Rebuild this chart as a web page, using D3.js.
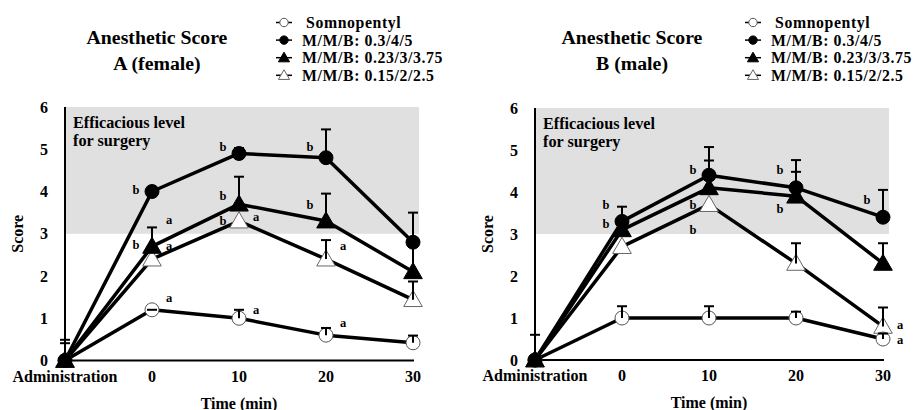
<!DOCTYPE html>
<html><head><meta charset="utf-8">
<script src="https://cdn.jsdelivr.net/npm/d3@7"></script>
<style>body{margin:0;background:#fff}</style>
</head><body><svg id="c" width="916" height="410" font-family="'Liberation Serif', 'DejaVu Serif', serif" font-weight="bold"></svg>
<script>
const categories = ["Administration","0","10","20","30"];
const seriesNames = ["Somnopentyl","M/M/B: 0.3/4/5","M/M/B: 0.23/3/3.75","M/M/B: 0.15/2/2.5"];
const yTicks = [0,1,2,3,4,5,6];

// Female (A)
const femaleSomno = [0,1.2,1.0,0.6,0.42];
const femaleSomnoErr = [0,0,0.2,0.17,0.17];
const femaleHigh = [0,4.0,4.9,4.8,2.8];
const femaleHighErr = [0,0,0.13,0.67,0.7];
const femaleMid = [0,2.7,3.7,3.3,2.1];
const femaleMidErr = [0.41,0.45,0.65,0.65,0.75];
const femaleLow = [0,2.4,3.3,2.4,1.44];
const femaleLowErr = [0.49,0,0,0.45,0.43];
const femaleLabels = [
  ["0",4.04,"b","L"],["0",3.32,"a","R"],["0",2.74,"b","L"],["0",2.70,"a","R"],["0",1.49,"a","R"],
  ["10",5.06,"b","L"],["10",3.9,"b","L"],["10",3.3,"b","L"],["10",3.4,"a","R"],["10",1.2,"a","R"],
  ["20",5.06,"b","L"],["20",3.69,"b","L"],["20",2.72,"a","R"],["20",0.89,"a","R"]
];

// Male (B)
const maleSomno = [0,1.0,1.0,1.0,0.5];
const maleSomnoErr = [0,0.28,0.28,0.15,0.13];
const maleHigh = [0,3.3,4.4,4.1,3.4];
const maleHighErr = [0.6,0.35,0.67,0.66,0.65];
const maleMid = [0,3.1,4.1,3.9,2.3];
const maleMidErr = [0,0,0.65,0.58,0.48];
const maleLow = [0,2.7,3.7,2.3,0.8];
const maleLowErr = [0,0,0,0.48,0.45];
const maleLabels = [
  ["0",3.69,"b","L"],["0",3.25,"b","L"],
  ["10",4.52,"b","L"],["10",3.69,"b","L"],["10",3.1,"b","L"],
  ["20",4.52,"b","L"],["20",3.6,"b","L"],
  ["30",3.81,"b","L"],["30",0.83,"a","R"],["30",0.48,"a","R"]
];

const svg = d3.select("#c");
const markerKinds = ["openCircle","filledCircle","filledTri","openTri"];
const markerOrder = [3,0,2,1];

function drawMarker(g, kind, x, y, scale) {
  scale = scale || 1;
  if (kind === "openCircle" || kind === "filledCircle") {
    g.append("circle").attr("cx", x).attr("cy", y).attr("r", 7*scale)
      .attr("fill", kind === "openCircle" ? "#fff" : "#000")
      .attr("stroke", kind === "openCircle" ? "#555" : "#000").attr("stroke-width", 1);
  } else {
    const sym = d3.symbol().type(d3.symbolTriangle).size(150*scale*scale);
    g.append("path").attr("d", sym()).attr("transform", `translate(${x},${y+1.5*scale})`)
      .attr("fill", kind === "openTri" ? "#fff" : "#000")
      .attr("stroke", kind === "openTri" ? "#666" : "#000").attr("stroke-width", 1);
  }
}

function panel(cfg) {
  const x = d3.scalePoint().domain(categories).range([cfg.x0, cfg.x1]).padding(0);
  const y = d3.scaleLinear().domain([0,6]).range([cfg.yb, cfg.yt]);
  const g = svg.append("g");
  g.append("rect").attr("x", x(categories[0])).attr("y", y(6))
    .attr("width", x("30") + 6 - x(categories[0])).attr("height", y(3) - y(6)).attr("fill", "#e0e0e0");
  g.append("text").attr("x", x(categories[0]) + 8).attr("y", y(6) + 21).attr("font-size", 16.2).text("Efficacious level");
  g.append("text").attr("x", x(categories[0]) + 8).attr("y", y(6) + 39).attr("font-size", 16.2).text("for surgery");
  g.append("line").attr("x1", x(categories[0])).attr("x2", x(categories[0])).attr("y1", y(0)).attr("y2", y(6))
    .attr("stroke", "#000").attr("stroke-width", 2);
  g.append("line").attr("x1", x(categories[0])).attr("x2", x("30") + 1).attr("y1", y(0)).attr("y2", y(0))
    .attr("stroke", "#000").attr("stroke-width", 2);
  yTicks.forEach(t => g.append("text").attr("x", x(categories[0]) - 17).attr("y", y(t) + 5.5)
    .attr("text-anchor", "end").attr("font-size", 16).text(t));
  categories.forEach(c => g.append("text").attr("x", x(c)).attr("y", y(0) + 21)
    .attr("text-anchor", "middle").attr("font-size", 16).text(c));
  g.append("text").attr("x", x("10")).attr("y", y(0) + 48).attr("text-anchor", "middle").attr("font-size", 16).text("Time (min)");
  g.append("text").attr("transform", `translate(${x(categories[0]) - 42},${y(3)}) rotate(-90)`)
    .attr("text-anchor", "middle").attr("font-size", 16).text("Score");
  g.append("text").attr("x", cfg.titleX).attr("y", 44).attr("text-anchor", "middle").attr("font-size", 19.8).text("Anesthetic Score");
  g.append("text").attr("x", cfg.titleX).attr("y", 70).attr("text-anchor", "middle").attr("font-size", 19.8).text(cfg.sub);
  seriesNames.forEach((n, i) => {
    const ly = 22.5 + i * 17.6;
    const lg = g.append("g");
    lg.append("line").attr("x1", cfg.legX - 8).attr("x2", cfg.legX + 8).attr("y1", ly).attr("y2", ly)
      .attr("stroke", "#000").attr("stroke-width", 1.5);
    drawMarker(lg, markerKinds[i], cfg.legX, ly, 0.6);
    lg.append("text").attr("x", cfg.legX + (i === 0 ? 22 : 18)).attr("y", ly + 5.5).attr("font-size", 15.8)
      .attr("letter-spacing", 0.6).text(n);
  });
  const line = d3.line().x((d, i) => x(categories[i])).y(d => y(d));
  cfg.series.forEach(s => {
    g.append("path").attr("d", line(s.v)).attr("fill", "none").attr("stroke", "#000").attr("stroke-width", 3.5)
      .attr("stroke-linejoin", "round");
  });
  markerOrder.forEach(si => {
    const s = cfg.series[si];
    s.v.forEach((v, i) => drawMarker(g, markerKinds[si], x(categories[i]), y(v)));
  });
  cfg.series.forEach(s => {
    s.v.forEach((v, i) => {
      const e = s.e[i];
      if (e === 0 && !(s.zeroCap && s.zeroCap[i])) return;
      const cx = x(categories[i]);
      g.append("line").attr("x1", cx).attr("x2", cx).attr("y1", y(v)).attr("y2", y(v + e)).attr("stroke", "#000").attr("stroke-width", 2);
      g.append("line").attr("x1", cx - 5).attr("x2", cx + 5).attr("y1", y(v + e)).attr("y2", y(v + e)).attr("stroke", "#000").attr("stroke-width", 2);
    });
  });
  cfg.labels.forEach(l => {
    g.append("text").attr("x", x(l[0]) + (l[3] === "L" ? -16 : 17)).attr("y", y(l[1]) + 4)
      .attr("text-anchor", "middle").attr("font-size", 12.5).text(l[2]);
  });
}

panel({x0: 65, x1: 413, yb: 360.5, yt: 107, titleX: 157, sub: "A (female)", legX: 284,
  series: [
    {v: femaleSomno, e: femaleSomnoErr, zeroCap: [false,true,false,false,false]},
    {v: femaleHigh, e: femaleHighErr},
    {v: femaleMid, e: femaleMidErr},
    {v: femaleLow, e: femaleLowErr}
  ], labels: femaleLabels});
panel({x0: 535, x1: 883, yb: 360, yt: 108, titleX: 632, sub: "B (male)", legX: 753,
  series: [
    {v: maleSomno, e: maleSomnoErr},
    {v: maleHigh, e: maleHighErr},
    {v: maleMid, e: maleMidErr},
    {v: maleLow, e: maleLowErr}
  ], labels: maleLabels});
</script></body></html>
